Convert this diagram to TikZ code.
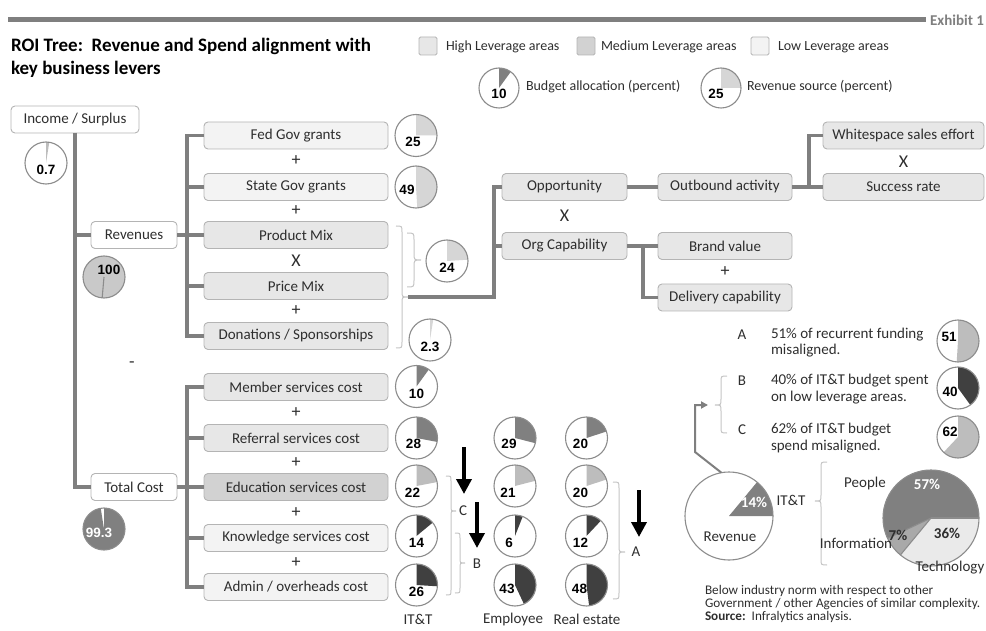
\documentclass[tikz,border=0pt]{standalone}
\usepackage{fontspec}
\setmainfont{Carlito}
\newfontfamily\arialfam{Liberation Sans}
\usetikzlibrary{arrows.meta}

\definecolor{linegray}{HTML}{7F7F7F}
\definecolor{boxedge}{HTML}{B4B4B4}
\definecolor{pieline}{HTML}{8C8C8C}
\definecolor{bracegray}{HTML}{C4C4C4}
\definecolor{txt}{HTML}{2E2E2E}
\definecolor{lowlev}{HTML}{F3F3F3}
\definecolor{highlev}{HTML}{E7E7E7}
\definecolor{medlev}{HTML}{D2D2D2}
\definecolor{slicemid}{HTML}{808080}
\definecolor{slicedark}{HTML}{404040}
\definecolor{slicelight}{HTML}{BDBDBD}
\definecolor{revslice}{HTML}{D6D6D6}
\definecolor{fullrev}{HTML}{C9C9C9}
\definecolor{infoslice}{HTML}{A9A9A9}
\definecolor{techslice}{HTML}{EAEAEA}

\newcommand\lblfont{\fontsize{15}{17}\selectfont}
\newcommand\legfont{\fontsize{14}{16}\selectfont}
\newcommand\notefont{\fontsize{13.2}{15}\selectfont}
\newcommand\titlefont{\fontsize{19}{22}\selectfont\bfseries}
\newcommand\pienum{\arialfam\bfseries\fontsize{13.5}{15}\selectfont}
\newcommand\opfont{\fontsize{18}{19}\selectfont}

% pie: name, centre, radius, fraction (clockwise from 12 o'clock), slice colour, label, label offset, label style
\newcommand\pchart[8]{%
  \node[piebg, minimum size={2*#3pt}] (#1) at (#2) {};
  \fill[#5] (#1.center) -- ++(-90:#3) arc[start angle=-90, delta angle={360*#4}, radius=#3] -- cycle;
  \draw[pieedge] (#1.center) circle[radius=#3];
  \path (#1.center) ++(#7) node[#8] (#1-num) {#6};
}
% right-pointing brace: x, top, bottom, tip, depth
\newcommand\bracer[5]{%
  \draw[bracestyle] ({#1-#5},#2) .. controls (#1,#2) .. (#1,{#2+#5}) -- (#1,{#4-#5})
    .. controls (#1,#4) .. ({#1+#5},#4) .. controls (#1,#4) .. (#1,{#4+#5})
    -- (#1,{#3-#5}) .. controls (#1,#3) .. ({#1-#5},#3);
}
% left-pointing brace: x, top, bottom, tip, depth
\newcommand\bracel[5]{%
  \draw[bracestyle] ({#1+#5},#2) .. controls (#1,#2) .. (#1,{#2+#5}) -- (#1,{#4-#5})
    .. controls (#1,#4) .. ({#1-#5},#4) .. controls (#1,#4) .. (#1,{#4+#5})
    -- (#1,{#3-#5}) .. controls (#1,#3) .. ({#1+#5},#3);
}

\begin{document}
\begin{tikzpicture}[x=1pt,y=-1pt,
  every node/.style={inner sep=0pt, outer sep=0pt},
  lever/.style={draw=boxedge, line width=0.9pt, rounded corners=4pt, minimum height=27pt, text=txt, font=\lblfont},
  wire/.style={draw=linegray, line width=3.6pt},
  pieedge/.style={draw=pieline, line width=1.1pt},
  piebg/.style={circle, fill=white},
  pnum/.style={font=\pienum, text=black},
  wnum/.style={font=\pienum, text=white},
  plain/.style={font=\lblfont, text=txt},
  legtext/.style={font=\legfont, text=txt, anchor=west},
  note/.style={font=\notefont, text=txt, anchor=west},
  opsign/.style={font=\opfont, text=txt},
  legbox/.style={draw=boxedge, line width=0.9pt, minimum size=18pt, rounded corners=1.5pt},
  bracestyle/.style={draw=bracegray, line width=1pt},
  downarrow/.style={draw=black, line width=3.6pt, -{Triangle[length=15pt,width=15pt]}},
  backarrow/.style={draw=linegray, line width=2pt, -{Triangle[length=7pt,width=7pt]}},
]
\useasboundingbox (0,0) rectangle (986,631);

% ---- header ----
\draw[draw=linegray, line width=5pt] (8,20) -- (926,20);
\node[anchor=east, font=\fontsize{15}{17}\selectfont\bfseries, text=linegray] (exhibit) at (984,20) {Exhibit 1};
\node[anchor=west, font=\titlefont, text=black] (title1) at (11,46) {ROI Tree:\ \ Revenue and Spend alignment with};
\node[anchor=west, font=\titlefont, text=black] (title2) at (11,69) {key business levers};

% ---- legend ----
\node[legbox, fill=highlev] (sqhigh) at (428,46) {};
\node[legtext] (lhigh) at (446,47) {High Leverage areas};
\node[legbox, fill=medlev] (sqmed) at (586,46) {};
\node[legtext] (lmed) at (601,47) {Medium Leverage areas};
\node[legbox, fill=lowlev] (sqlow) at (760,46) {};
\node[legtext] (llow) at (778,47) {Low Leverage areas};
\pchart{legbudget}{499,88}{20}{0.10}{slicemid}{10}{0,6}{pnum}
\node[legtext] (lbudget) at (526,87) {Budget allocation (percent)};
\pchart{legrev}{721,88}{20}{0.25}{revslice}{25}{-5,6}{pnum}
\node[legtext] (lrevsrc) at (747,87) {Revenue source (percent)};

% ---- main tree ----
\node[lever, fill=white, minimum width=128pt] (inc) at (75,119.5) {Income / Surplus};
\node[lever, fill=white, minimum width=86pt] (rev) at (134,235) {Revenues};
\node[lever, fill=white, minimum width=86pt] (tot) at (134,487) {Total Cost};
\draw[wire] (inc.south) |- (rev.west);
\draw[wire] (inc.south) |- (tot.west);

\pchart{psurplus}{46,163}{21}{0.025}{slicelight}{0.7}{0,7}{pnum}
% revenue total: a full disc
\node[piebg, minimum size=42pt] (prevtot) at (104,277) {};
\fill[fullrev] (prevtot.center) circle[radius=21];
\draw[pieedge] (prevtot.center) -- ++(95:21);
\draw[pieedge] (prevtot.center) circle[radius=21];
\path (prevtot.center) ++(5,-7) node[pnum] (prevtot-num) {100};
\pchart{pcost}{104,529}{21}{0.975}{slicemid}{99.3}{-5,4}{wnum}
\node[opsign] (minus) at (132,365) {-};

% revenue levers
\node[lever, fill=lowlev, minimum width=184pt] (fed) at (296,135.5) {Fed Gov grants};
\node[lever, fill=lowlev, minimum width=184pt] (state) at (296,187) {State Gov grants};
\node[lever, fill=highlev, minimum width=184pt] (prod) at (296,235) {Product Mix};
\node[lever, fill=highlev, minimum width=184pt] (price) at (296,286) {Price Mix};
\node[lever, fill=highlev, minimum width=184pt] (don) at (296,336) {Donations / Sponsorships};
\node[opsign] (op1) at (296,161) {+};
\node[opsign] (op2) at (296,210.5) {+};
\node[opsign] (op3) at (296,261) {X};
\node[opsign] (op4) at (296,310.5) {+};
\coordinate (rj) at (187,235);
\draw[wire] (rev.east) -- (prod.west);
\draw[wire] (fed.west) -- (fed.west -| rj) -- (don.west -| rj) -- (don.west);
\draw[wire] (state.west) -- (state.west -| rj);
\draw[wire] (price.west) -- (price.west -| rj);

\pchart{pfed}{416,135.5}{21}{0.25}{revslice}{25}{-3,6}{pnum}
\pchart{pstate}{416,187}{21}{0.49}{revslice}{49}{-9,3}{pnum}
\pchart{pmix}{447,261}{21}{0.24}{revslice}{24}{0,7}{pnum}
\pchart{pdon}{430,340}{21}{0.025}{revslice}{2.3}{0,7}{pnum}
\bracer{414}{233}{287}{260}{7}
\bracer{402}{226}{348}{297}{6}

% cost levers
\node[lever, fill=highlev, minimum width=184pt] (mem) at (296,387) {Member services cost};
\node[lever, fill=highlev, minimum width=184pt] (ref) at (296,438) {Referral services cost};
\node[lever, fill=medlev, minimum width=184pt] (edu) at (296,487) {Education services cost};
\node[lever, fill=lowlev, minimum width=184pt] (know) at (296,538) {Knowledge services cost};
\node[lever, fill=lowlev, minimum width=184pt] (adm) at (296,587) {Admin / overheads cost};
\node[opsign] (op5) at (296,413) {+};
\node[opsign] (op6) at (296,462.5) {+};
\node[opsign] (op7) at (296,513) {+};
\node[opsign] (op8) at (296,563) {+};
\coordinate (cj) at (187,487);
\draw[wire] (tot.east) -- (edu.west);
\draw[wire] (mem.west) -- (mem.west -| cj) -- (adm.west -| cj) -- (adm.west);
\draw[wire] (ref.west) -- (ref.west -| cj);
\draw[wire] (know.west) -- (know.west -| cj);

% spend pies: IT&T, Employee, Real estate
\pchart{it1}{416.5,386.5}{21}{0.10}{slicemid}{10}{0,7}{pnum}
\pchart{it2}{416.5,438}{21}{0.28}{slicemid}{28}{-3,6}{pnum}
\pchart{it3}{416.5,486}{21}{0.22}{slicelight}{22}{-4,7}{pnum}
\pchart{it4}{416.5,536}{21}{0.14}{slicedark}{14}{0,7}{pnum}
\pchart{it5}{416.5,585}{21}{0.26}{slicedark}{26}{0,7}{pnum}
\pchart{em2}{515,438}{21}{0.29}{slicemid}{29}{-6,6}{pnum}
\pchart{em3}{515,486}{21}{0.21}{slicelight}{21}{-7,7}{pnum}
\pchart{em4}{515,536}{21}{0.06}{slicedark}{6}{-6,7}{pnum}
\pchart{em5}{515,585}{21}{0.43}{slicedark}{43}{-8,4}{pnum}
\pchart{re2}{586.5,438}{21}{0.20}{slicemid}{20}{-6,6}{pnum}
\pchart{re3}{586.5,486}{21}{0.20}{slicelight}{20}{-6,7}{pnum}
\pchart{re4}{586.5,536}{21}{0.12}{slicedark}{12}{-6,7}{pnum}
\pchart{re5}{586.5,585}{21}{0.48}{slicedark}{48}{-7,4}{pnum}
\node[plain] (colit) at (418,619) {IT\&T};
\node[plain] (colem) at (513,619) {Employee};
\node[plain] (colre) at (587,619) {Real estate};

\bracer{451}{476}{595}{511}{5}
\node[plain] (letc) at (463,511) {C};
\bracer{460}{533}{593}{563}{5}
\node[plain] (letb) at (477,564) {B};
\bracer{619}{482}{599}{552}{6}
\node[plain] (leta) at (636,552) {A};
\coordinate (a1s) at (464,447);
\coordinate (a1e) at (464,494);
\coordinate (a2s) at (477,502);
\coordinate (a2e) at (477,548);
\coordinate (a3s) at (639,490);
\coordinate (a3e) at (639,537);
\draw[downarrow] (a1s) -- (a1e);
\draw[downarrow] (a2s) -- (a2e);
\draw[downarrow] (a3s) -- (a3e);

% ---- opportunity branch ----
\node[lever, fill=highlev, minimum width=125pt] (opp) at (564.5,187) {Opportunity};
\node[lever, fill=highlev, minimum width=125pt] (org) at (564.5,246) {Org Capability};
\node[opsign] (op9) at (564.5,216) {X};
\node[lever, fill=highlev, minimum width=134pt] (outb) at (725,187) {Outbound activity};
\node[lever, fill=highlev, minimum width=134pt] (brand) at (725,246) {Brand value};
\node[lever, fill=highlev, minimum width=134pt] (deliv) at (725,297.5) {Delivery capability};
\node[opsign] (op10) at (725,272) {+};
\node[lever, fill=highlev, minimum width=161pt] (wsp) at (903.5,135.5) {Whitespace sales effort};
\node[lever, fill=highlev, minimum width=161pt] (succ) at (903.5,187) {Success rate};
\node[opsign] (op11) at (903.5,162) {X};

\coordinate (btip) at (408,297);
\coordinate (oj) at (494,297);
\draw[wire] (btip) -- (oj) |- (opp.west);
\draw[wire] (oj |- org.west) -- (org.west);
\draw[wire] (opp.east) -- (outb.west);
\coordinate (wj) at (809,187);
\draw[wire] (outb.east) -- (succ.west);
\draw[wire] (wj) |- (wsp.west);
\coordinate (bj) at (643,246);
\draw[wire] (org.east) -- (brand.west);
\draw[wire] (bj) |- (deliv.west);

% ---- findings ----
\node[plain] (fa) at (742,335) {A};
\node[plain, anchor=west] (fa1) at (771,335) {51\% of recurrent funding};
\node[plain, anchor=west] (fa2) at (771,351) {misaligned.};
\node[plain] (fb) at (742,381) {B};
\node[plain, anchor=west] (fb1) at (771,381) {40\% of IT\&T budget spent};
\node[plain, anchor=west] (fb2) at (771,398) {on low leverage areas.};
\node[plain] (fc) at (742,430) {C};
\node[plain, anchor=west] (fc1) at (771,430) {62\% of IT\&T budget};
\node[plain, anchor=west] (fc2) at (771,447) {spend misaligned.};
\pchart{fpa}{958,341}{21}{0.51}{slicelight}{51}{-9,-4}{pnum}
\pchart{fpb}{958,388}{21}{0.40}{slicedark}{40}{-8,4}{pnum}
\pchart{fpc}{958,437}{21}{0.62}{slicelight}{62}{-8,-5}{pnum}
\bracel{721}{376}{433}{405}{6}

% revenue share of IT&T
\node[piebg, minimum size=88pt] (revpie) at (729,516) {};
\fill[slicemid] (revpie.center) -- ++(0:44) arc[start angle=0, end angle=-50.4, radius=44] -- cycle;
\draw[pieedge] (revpie.center) circle[radius=44];
\node[font=\lblfont\bfseries, text=white] (revpct) at (754,502) {14\%};
\node[plain] (revlbl) at (730,537) {Revenue};
\coordinate (rbend) at (695,452);
\coordinate (rup) at (695,405);
\coordinate (rtip) at (708,405);
\draw[backarrow] (revpie.100) -- (rbend) -- (rup) -- (rtip);
\node[plain] (itt) at (791,500) {IT\&T};
\bracel{821}{462}{565}{501}{6}

% IT&T split
\node[piebg, minimum size=96pt] (itpie) at (931,518) {};
\fill[slicemid] (itpie.center) -- ++(0:48) arc[start angle=0, end angle=-205.2, radius=48] -- cycle;
\fill[infoslice] (itpie.center) -- ++(-205.2:48) arc[start angle=-205.2, end angle=-230.4, radius=48] -- cycle;
\fill[techslice] (itpie.center) -- ++(-230.4:48) arc[start angle=-230.4, end angle=-360, radius=48] -- cycle;
\draw[pieedge] (itpie.center) -- ++(0:48);
\draw[pieedge] (itpie.center) -- ++(-205.2:48);
\draw[pieedge] (itpie.center) -- ++(-230.4:48);
\draw[pieedge] (itpie.center) circle[radius=48];
\node[font=\lblfont\bfseries, text=white] (pplpct) at (927,484) {57\%};
\node[font=\lblfont\bfseries, text=txt] (infpct) at (898,535) {7\%};
\node[font=\lblfont\bfseries, text=txt] (techpct) at (947,533) {36\%};
\node[plain] (ppl) at (865,483) {People};
\node[plain] (inf) at (856,543) {Information};
\node[plain] (tech) at (950,568) {Technology};

% footnote
\node[note] (n1) at (705,591) {Below industry norm with respect to other};
\node[note] (n2) at (705,604) {Government / other Agencies of similar complexity.};
\node[note] (n3) at (705,617) {\textbf{Source:}\ \ Infralytics analysis.};
\end{tikzpicture}
\end{document}
